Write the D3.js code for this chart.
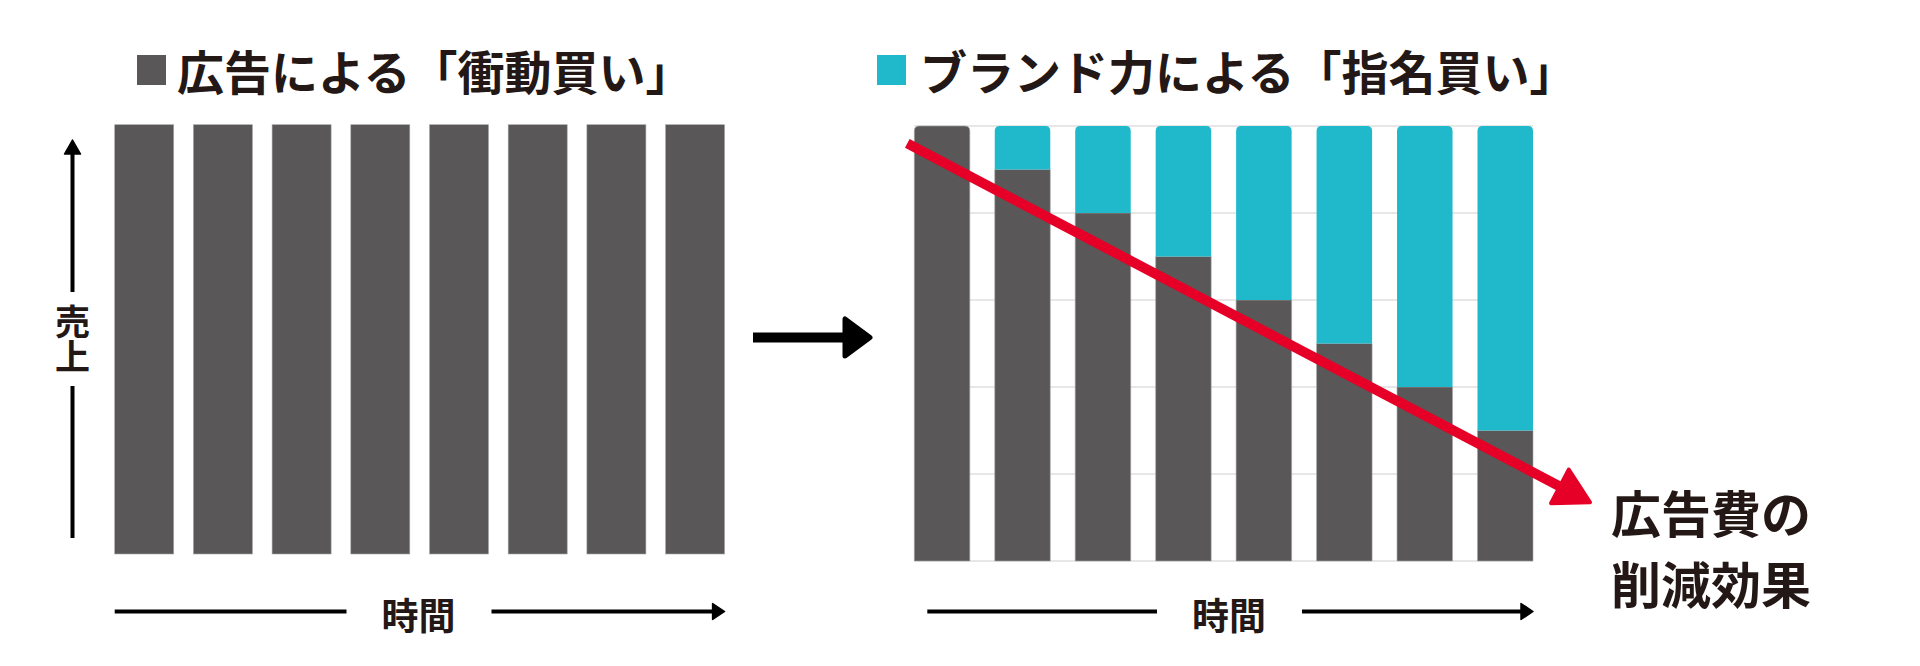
<!DOCTYPE html>
<html lang="ja">
<head>
<meta charset="utf-8">
<title>広告による「衝動買い」とブランド力による「指名買い」</title>
<script src="https://cdn.jsdelivr.net/npm/d3@7"></script>
<style>
  html, body { margin: 0; padding: 0; background: #ffffff; }
  svg { display: block; }
  text { font-family: "Noto Sans CJK JP", "Noto Sans", sans-serif; font-weight: 700; fill: #231815; }
</style>
</head>
<body>
<svg id="chart" width="1920" height="666"></svg>
<script>
// Periods along the time axis
const periods = ["1", "2", "3", "4", "5", "6", "7", "8"];
// Left panel: sales driven by advertising (impulse purchases)
const impulseSales = [100, 100, 100, 100, 100, 100, 100, 100];
// Right panel: sales split into advertising-driven and brand-driven (nominated) purchases
const adDrivenSales = [100, 90, 80, 70, 60, 50, 40, 30];
const brandDrivenSales = [0, 10, 20, 30, 40, 50, 60, 70];
// Reference lines on the right panel
const gridValues = [0, 20, 40, 60, 80, 100];

const titleLeft = "広告による「衝動買い」";
const titleRight = "ブランド力による「指名買い」";
const yLabel = "売上";
const xLabel = "時間";
const effectLabel = ["広告費の", "削減効果"];

const DARK = "#595757";
const TEAL = "#1fb9cb";
const RED = "#e60027";
const INK = "#231815";
const GRID = "#cfcfcf";

const svg = d3.select("#chart");

// ---------- scales ----------
const xL = d3.scaleBand().domain(periods).range([114.7, 724.6]).paddingInner(0.25).paddingOuter(0);
const yL = d3.scaleLinear().domain([0, 100]).range([554, 124.7]);

const xR = d3.scaleBand().domain(periods).range([914.3, 1533]).paddingInner(0.31).paddingOuter(0);
const yR = d3.scaleLinear().domain([0, 100]).range([561, 126]);

// Rectangle path with only the top corners rounded
function topRoundedRect(x, y, w, h, r) {
  r = Math.min(r, w / 2, h);
  return `M${x},${y + h}V${y + r}Q${x},${y} ${x + r},${y}H${x + w - r}Q${x + w},${y} ${x + w},${y + r}V${y + h}Z`;
}

// ---------- titles with legend swatches ----------
const titles = [
  { color: DARK, text: titleLeft, sx: 137, tx: 177 },
  { color: TEAL, text: titleRight, sx: 877, tx: 920 }
];
const tg = svg.append("g");
tg.selectAll("rect").data(titles).join("rect")
  .attr("x", d => d.sx).attr("y", 55).attr("width", 29).attr("height", 30)
  .attr("fill", d => d.color);
tg.selectAll("text").data(titles).join("text")
  .attr("x", d => d.tx).attr("y", 69)
  .attr("dominant-baseline", "central")
  .attr("font-size", 47)
  .text(d => d.text);

// ---------- left panel bars ----------
svg.append("g").selectAll("rect").data(periods).join("rect")
  .attr("x", d => xL(d))
  .attr("y", (d, i) => yL(impulseSales[i]))
  .attr("width", xL.bandwidth())
  .attr("height", (d, i) => yL(0) - yL(impulseSales[i]))
  .attr("fill", DARK)
  .attr("stroke", "#a8a6a6").attr("stroke-width", 0.6);

// ---------- right panel grid ----------
svg.append("g").selectAll("line").data(gridValues).join("line")
  .attr("x1", xR.range()[0]).attr("x2", xR.range()[1])
  .attr("y1", d => yR(d)).attr("y2", d => yR(d))
  .attr("stroke", GRID).attr("stroke-width", 1.2);

// ---------- right panel stacked bars ----------
const stacked = d3.stack().keys(["ad", "brand"])(
  periods.map((p, i) => ({ period: p, ad: adDrivenSales[i], brand: brandDrivenSales[i] }))
);
const colors = { ad: DARK, brand: TEAL };
const rg = svg.append("g");
stacked.forEach(layer => {
  rg.append("g").selectAll("path").data(layer).join("path")
    .filter(d => d[1] > d[0])
    .attr("d", d => {
      const isTop = d[1] >= 100;
      const x = xR(d.data.period), w = xR.bandwidth();
      const y = yR(d[1]), h = yR(d[0]) - yR(d[1]);
      return isTop ? topRoundedRect(x, y, w, h, 5) : `M${x},${y}h${w}v${h}h${-w}Z`;
    })
    .attr("fill", colors[layer.key])
    .attr("stroke", layer.key === "ad" ? "#a8a6a6" : "none")
    .attr("stroke-width", 0.6);
});

// ---------- left vertical axis (sales) ----------
const axisX = 72.5;
const ya = svg.append("g");
ya.append("line").attr("x1", axisX).attr("x2", axisX).attr("y1", 150).attr("y2", 292)
  .attr("stroke", "#000").attr("stroke-width", 4);
ya.append("path").attr("d", `M${axisX},140L${axisX + 8},154L${axisX - 8},154Z`)
  .attr("fill", "#000").attr("stroke", "#000").attr("stroke-width", 1.5).attr("stroke-linejoin", "round");
ya.append("line").attr("x1", axisX).attr("x2", axisX).attr("y1", 386).attr("y2", 538)
  .attr("stroke", "#000").attr("stroke-width", 4);
// Vertical label set top-to-bottom
ya.append("text")
  .attr("x", axisX).attr("y", 339)
  .attr("writing-mode", "vertical-rl")
  .style("text-orientation", "upright")
  .attr("text-anchor", "middle")
  .attr("font-size", 35)
  .text(yLabel);

// ---------- time axes under each panel ----------
function timeAxis(x0, x1, labelX) {
  const g = svg.append("g");
  const y = 611.5;
  g.append("line").attr("x1", x0).attr("x2", labelX - 72).attr("y1", y).attr("y2", y)
    .attr("stroke", "#000").attr("stroke-width", 4);
  g.append("line").attr("x1", labelX + 73).attr("x2", x1 - 10).attr("y1", y).attr("y2", y)
    .attr("stroke", "#000").attr("stroke-width", 4);
  g.append("path").attr("d", `M${x1},${y}L${x1 - 12},${y - 8}L${x1 - 12},${y + 8}Z`)
    .attr("fill", "#000").attr("stroke", "#000").attr("stroke-width", 1.5).attr("stroke-linejoin", "round");
  g.append("text").attr("x", labelX).attr("y", 614)
    .attr("text-anchor", "middle").attr("dominant-baseline", "central")
    .attr("font-size", 37).text(xLabel);
}
timeAxis(xL.range()[0], xL.range()[1], 418.5);
timeAxis(xR.range()[0] + 13, xR.range()[1], 1229);

// ---------- arrow between panels ----------
const mid = svg.append("g");
mid.append("line").attr("x1", 753).attr("x2", 846).attr("y1", 337.5).attr("y2", 337.5)
  .attr("stroke", "#000").attr("stroke-width", 10);
mid.append("path").attr("d", "M870,337.5L845,319L845,356Z")
  .attr("fill", "#000").attr("stroke", "#000").attr("stroke-width", 5).attr("stroke-linejoin", "round");

// ---------- red trend arrow across the right panel ----------
const start = [xR(periods[0]) - 7, yR(96)];
const tip = [xR(periods[7]) + xR.bandwidth() + 57, yR(13.5)];
const ang = Math.atan2(tip[1] - start[1], tip[0] - start[0]);
const headLen = 34, headHalf = 19;
const base = [tip[0] - headLen * Math.cos(ang), tip[1] - headLen * Math.sin(ang)];
const nx = -Math.sin(ang), ny = Math.cos(ang);
const ra = svg.append("g");
ra.append("line")
  .attr("x1", start[0]).attr("y1", start[1])
  .attr("x2", base[0] + 4 * Math.cos(ang)).attr("y2", base[1] + 4 * Math.sin(ang))
  .attr("stroke", RED).attr("stroke-width", 10);
ra.append("path")
  .attr("d", `M${tip[0]},${tip[1]}L${base[0] + nx * headHalf},${base[1] + ny * headHalf}L${base[0] - nx * headHalf},${base[1] - ny * headHalf}Z`)
  .attr("fill", RED).attr("stroke", RED).attr("stroke-width", 4).attr("stroke-linejoin", "round");

// ---------- effect label ----------
svg.append("g").selectAll("text").data(effectLabel).join("text")
  .attr("x", 1611).attr("y", (d, i) => 511 + i * 71)
  .attr("dominant-baseline", "central")
  .attr("font-size", 50)
  .attr("fill", INK)
  .text(d => d);
</script>
</body>
</html>
